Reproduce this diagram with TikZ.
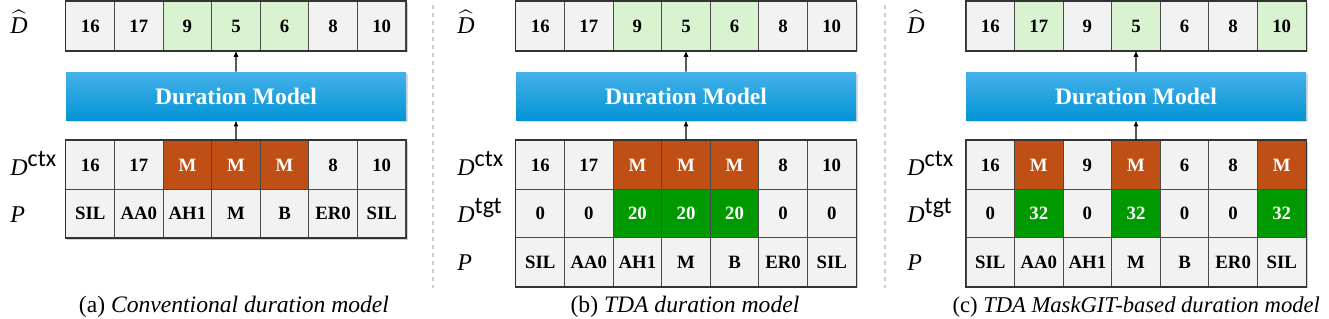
\documentclass[tikz,border=0pt]{standalone}
\usepackage{fontspec}
\usepackage{amsmath}
\usepackage{tikz}
\usetikzlibrary{arrows.meta, positioning, shadows, backgrounds}
\setmainfont{Liberation Serif}
\newfontfamily\supfont{Carlito}
\definecolor{cellgray}{HTML}{F2F2F2}
\definecolor{cellline}{HTML}{4A4A4A}
\definecolor{framegray}{HTML}{333333}
\definecolor{shadowgray}{HTML}{D0D0D0}
\definecolor{hitgreen}{HTML}{D9F2D0}
\definecolor{maskorange}{HTML}{C04F15}
\definecolor{tgtgreen}{HTML}{009A00}
\definecolor{dmtop}{HTML}{45B1E9}
\definecolor{dmbot}{HTML}{0494D6}
\definecolor{sepgray}{HTML}{D0D0D0}
\newcommand{\dsup}[1]{\raisebox{4.5pt}{\supfont #1}}
\newcommand{\cellrow}[4]{%
  \foreach \v/\s [count=\i] in {#4} {
    \node[cell, \s] (#1-\i) at ({#2+(\i-0.5)*48.57}, #3) {\v};
  }%
}
\tikzset{
  cell/.style={draw=cellline, line width=0.5pt, fill=cellgray, minimum width=24.29pt, minimum height=24.25pt, inner sep=0pt, font=\fontsize{9.4}{10}\selectfont\bfseries},
  cplain/.style={},
  chit/.style={fill=hitgreen},
  cmask/.style={fill=maskorange, text=white},
  ctgt/.style={fill=tgtgreen, text=white},
  tableframe/.style={draw=framegray, line width=0.8pt},
  dmbox/.style={minimum width=170pt, minimum height=24pt, inner sep=0pt, top color=dmtop, bottom color=dmbot, text=white, font=\fontsize{11.8}{14}\selectfont\bfseries, drop shadow={shadow xshift=0.8pt, shadow yshift=-0.8pt, opacity=0.3}},
  flow/.style={-{Latex[length=3pt, width=2.6pt]}, line width=0.6pt},
  rowlabel/.style={anchor=base west, inner sep=0pt, font=\fontsize{12}{14}\selectfont},
  subcap/.style={font=\fontsize{11.8}{14}\selectfont},
  sepline/.style={draw=sepgray, dash pattern=on 2pt off 2pt, line width=0.6pt},
}

\begin{document}
\begin{tikzpicture}[x=0.5pt, y=-0.5pt]
    \useasboundingbox (0,0) rectangle (1329,318);

    % (a) conventional
    \cellrow{a-hat}{66}{26}{16/cplain,17/cplain,9/chit,5/chit,6/chit,8/cplain,10/cplain}
    \node[dmbox] (a-dm) at (236,96) {Duration Model};
    \cellrow{a-ctx}{66}{165}{16/cplain,17/cplain,M/cmask,M/cmask,M/cmask,8/cplain,10/cplain}
    \cellrow{a-ph}{66}{213.5}{SIL/cplain,AA0/cplain,AH1/cplain,M/cplain,B/cplain,ER0/cplain,SIL/cplain}
    \draw[tableframe] (a-hat-1.north west) rectangle (a-hat-7.south east);
    \draw[tableframe] (a-ctx-1.north west) rectangle (a-ph-7.south east);
    \node[rowlabel] (a-lhat) at (10,33) {$\widehat{\mathit{D}}$};
    \node[rowlabel] (a-lctx) at (10,175) {\textit{D}\dsup{ctx}};
    \node[rowlabel] (a-lp) at (10,222) {\textit{P}};
    \draw[flow] (a-dm.north) -- (a-hat-4.south);
    \draw[flow] (a-ctx-4.north) -- (a-dm.south);
    \node[subcap] (a-cap) at (234,307) {(a) \textit{Conventional duration model}};

    % (b) TDA
    \cellrow{b-hat}{516}{26}{16/cplain,17/cplain,9/chit,5/chit,6/chit,8/cplain,10/cplain}
    \node[dmbox] (b-dm) at (686,96) {Duration Model};
    \cellrow{b-ctx}{516}{165}{16/cplain,17/cplain,M/cmask,M/cmask,M/cmask,8/cplain,10/cplain}
    \cellrow{b-tgt}{516}{213.5}{0/cplain,0/cplain,20/ctgt,20/ctgt,20/ctgt,0/cplain,0/cplain}
    \cellrow{b-ph}{516}{262}{SIL/cplain,AA0/cplain,AH1/cplain,M/cplain,B/cplain,ER0/cplain,SIL/cplain}
    \draw[tableframe] (b-hat-1.north west) rectangle (b-hat-7.south east);
    \draw[tableframe] (b-ctx-1.north west) rectangle (b-ph-7.south east);
    \node[rowlabel] (b-lhat) at (457,33) {$\widehat{\mathit{D}}$};
    \node[rowlabel] (b-lctx) at (457,175) {\textit{D}\dsup{ctx}};
    \node[rowlabel] (b-ltgt) at (457,222) {\textit{D}\dsup{tgt}};
    \node[rowlabel] (b-lp) at (457,270) {\textit{P}};
    \draw[flow] (b-dm.north) -- (b-hat-4.south);
    \draw[flow] (b-ctx-4.north) -- (b-dm.south);
    \node[subcap] (b-cap) at (685,307) {(b) \textit{TDA duration model}};

    % (c) TDA MaskGIT
    \cellrow{c-hat}{966}{26}{16/cplain,17/chit,9/cplain,5/chit,6/cplain,8/cplain,10/chit}
    \node[dmbox] (c-dm) at (1136,96) {Duration Model};
    \cellrow{c-ctx}{966}{165}{16/cplain,M/cmask,9/cplain,M/cmask,6/cplain,8/cplain,M/cmask}
    \cellrow{c-tgt}{966}{213.5}{0/cplain,32/ctgt,0/cplain,32/ctgt,0/cplain,0/cplain,32/ctgt}
    \cellrow{c-ph}{966}{262}{SIL/cplain,AA0/cplain,AH1/cplain,M/cplain,B/cplain,ER0/cplain,SIL/cplain}
    \draw[tableframe] (c-hat-1.north west) rectangle (c-hat-7.south east);
    \draw[tableframe] (c-ctx-1.north west) rectangle (c-ph-7.south east);
    \node[rowlabel] (c-lhat) at (907,33) {$\widehat{\mathit{D}}$};
    \node[rowlabel] (c-lctx) at (907,175) {\textit{D}\dsup{ctx}};
    \node[rowlabel] (c-ltgt) at (907,222) {\textit{D}\dsup{tgt}};
    \node[rowlabel] (c-lp) at (907,270) {\textit{P}};
    \draw[flow] (c-dm.north) -- (c-hat-4.south);
    \draw[flow] (c-ctx-4.north) -- (c-dm.south);
    \node[subcap, font=\fontsize{11.3}{14}\selectfont, anchor=east] (c-cap) at (1327,307) {(c) \textit{TDA MaskGIT-based duration model}};

    % dividers
    \draw[sepline] (433,5) -- (433,288);
    \draw[sepline] (885,5) -- (885,288);

    % table shadows
    \begin{scope}[on background layer]
      \foreach \p in {a,b,c} {
        \fill[shadowgray] ([shift={(1.5,1.5)}]\p-hat-1.north west) rectangle ([shift={(1.5,1.5)}]\p-hat-7.south east);
        \fill[shadowgray] ([shift={(1.5,1.5)}]\p-ctx-1.north west) rectangle ([shift={(1.5,1.5)}]\p-ph-7.south east);
      }
    \end{scope}
  \end{tikzpicture}
\end{document}
